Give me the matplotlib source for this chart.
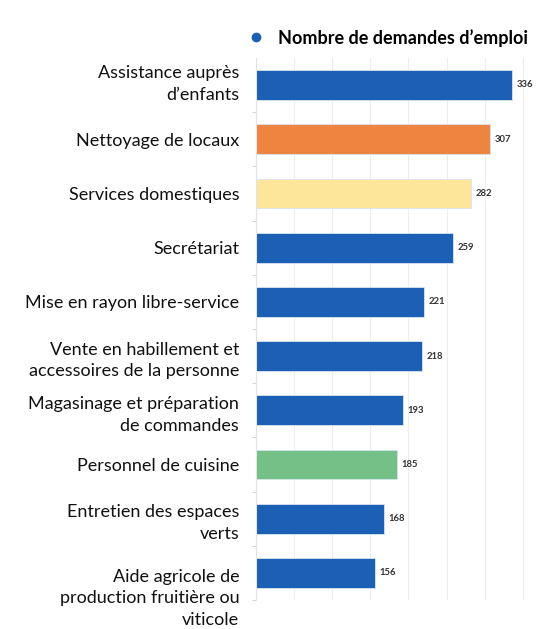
import matplotlib.pyplot as plt
from matplotlib.lines import Line2D
from matplotlib.transforms import ScaledTranslation

categories = [
    "Assistance auprès\nd’enfants",
    "Nettoyage de locaux",
    "Services domestiques",
    "Secrétariat",
    "Mise en rayon libre-service",
    "Vente en habillement et\naccessoires de la personne",
    "Magasinage et préparation\nde commandes",
    "Personnel de cuisine",
    "Entretien des espaces\nverts",
    "Aide agricole de\nproduction fruitière ou\nviticole",
]
values = [336, 307, 282, 259, 221, 218, 193, 185, 168, 156]
colors = ["#1b60b5", "#ed8540", "#fde69a", "#1b60b5", "#1b60b5",
          "#1b60b5", "#1b60b5", "#74c087", "#1b60b5", "#1b60b5"]
legend_label = "Nombre de demandes d’emploi"

plt.rcParams['font.family'] = ['Lato', 'DejaVu Sans']

fig = plt.figure(figsize=(5.55, 6.29), dpi=100)
ax = fig.add_axes([0.461, 0.046, 0.521, 0.862])

pos = list(range(len(categories)))
ax.barh(pos, values, height=0.55, color=colors, edgecolor="#d8e4f0", linewidth=0.6, zorder=2)
for p, v in zip(pos, values):
    ax.text(v + 6, p, str(v), va="center", ha="left", fontsize=6.8,
            fontweight="bold", color="#333333")

ax.set_ylim(len(categories) - 0.5, -0.5)
ax.set_xlim(0, 379)
ax.set_xticks(range(0, 400, 50))
ax.tick_params(axis="x", length=0, labelbottom=False)
ax.grid(axis="x", color="#eeeeee", linewidth=0.8, zorder=0)

ax.set_yticks(pos)
ax.set_yticklabels(categories, fontsize=13, color="#111111", linespacing=1.45)
ax.tick_params(axis="y", length=0, pad=12)
ax.set_yticks([p + 0.5 for p in pos], minor=True)
ax.tick_params(axis="y", which="minor", length=3, color="#cccccc")

# the first label sits a bit high and the last one hangs below its bar
labels = ax.get_yticklabels()
labels[0].set_transform(labels[0].get_transform() + ScaledTranslation(0, 0.05, fig.dpi_scale_trans))
labels[-1].set_transform(labels[-1].get_transform() + ScaledTranslation(0, -0.21, fig.dpi_scale_trans))

for s in ["top", "right", "bottom"]:
    ax.spines[s].set_visible(False)
ax.spines["left"].set_color("#e3e3e3")

handle = Line2D([], [], marker="o", linestyle="none", color="#1b60b5", markersize=6)
fig.legend([handle], [legend_label], loc="center left", bbox_to_anchor=(0.4, 0.94),
           frameon=False, handletextpad=0.2, prop={"weight": "bold", "size": 13})

fig.savefig("out.png", dpi=100)
